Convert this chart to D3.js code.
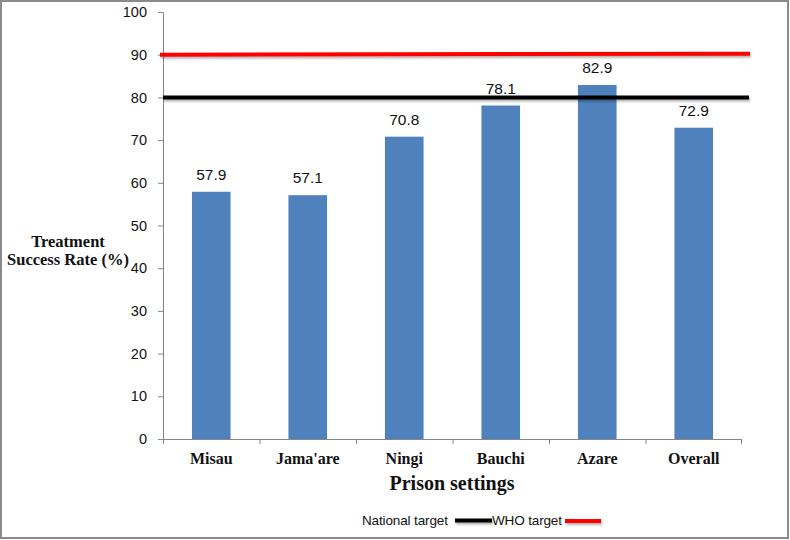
<!DOCTYPE html>
<html><head><meta charset="utf-8">
<script src="https://cdn.jsdelivr.net/npm/d3@7/dist/d3.min.js"></script>
<style>body{margin:0;background:#fff}svg{display:block}</style>
</head><body>
<svg id="c" width="790" height="540"></svg>
<script>
const categories = ["Misau","Jama'are","Ningi","Bauchi","Azare","Overall"];
const values = [57.9, 57.1, 70.8, 78.1, 82.9, 72.9];
const yTicks = [0,10,20,30,40,50,60,70,80,90,100];
const nationalTarget = 80;
const whoTarget = 90;

(function(){
const svg = d3.select("#c");
const pLeft = 163, pRight = 742, pTop = 12, pBottom = 439;
const x = d3.scaleBand().domain(categories).range([pLeft, pRight]).paddingInner(0.6).paddingOuter(0.3);
const y = d3.scaleLinear().domain([0, 100]).range([pBottom, pTop]);
const axisCol = "#868686";

// frame
svg.append("rect").attr("x",1).attr("y",1).attr("width",787).attr("height",537)
  .attr("fill","#fff").attr("stroke","#8a8a8a").attr("stroke-width",2);

// y axis
const ya = svg.append("g").attr("transform",`translate(${pLeft},0)`)
  .call(d3.axisLeft(y).tickValues(yTicks).tickSize(5).tickPadding(11));
ya.select(".domain").attr("stroke",axisCol);
ya.selectAll(".tick line").attr("stroke",axisCol);
ya.selectAll("text").attr("font-family","'Liberation Sans', Arial, sans-serif").attr("font-size",14.5).attr("fill","#111");

// bars
svg.append("g").selectAll("rect").data(values).join("rect")
  .attr("x",(d,i)=>x(categories[i])).attr("width",x.bandwidth())
  .attr("y",d=>y(d)).attr("height",d=>y(0)-y(d)).attr("fill","#4F81BD");

// value labels
svg.append("g").selectAll("text").data(values).join("text")
  .attr("x",(d,i)=>x(categories[i])+x.bandwidth()/2).attr("y",d=>y(d)-12)
  .attr("text-anchor","middle").attr("font-family","'Liberation Sans', Arial, sans-serif")
  .attr("font-size",15.5).attr("fill","#111").text(d=>d.toFixed(1));

// x axis
const xa = svg.append("g").attr("transform",`translate(0,${pBottom})`)
  .call(d3.axisBottom(x).tickSize(0).tickPadding(14).tickSizeOuter(0));
xa.select(".domain").remove();
xa.selectAll("text").attr("font-family","'Liberation Serif', 'Times New Roman', serif")
  .attr("font-weight","bold").attr("font-size",16).attr("fill","#111");
svg.append("line").attr("x1",pLeft-5).attr("x2",pRight).attr("y1",pBottom+0.5).attr("y2",pBottom+0.5).attr("stroke",axisCol);
const step = x.step();
svg.append("g").selectAll("line").data(d3.range(categories.length+1)).join("line")
  .attr("x1",i=>pLeft+i*step+(i===categories.length?-0.5:0.5)).attr("x2",i=>pLeft+i*step+(i===categories.length?-0.5:0.5))
  .attr("y1",pBottom).attr("y2",pBottom+5).attr("stroke",axisCol);

// target lines with shadow
const defs = svg.append("defs");
const f = defs.append("filter").attr("id","sh").attr("filterUnits","userSpaceOnUse")
  .attr("x",0).attr("y",0).attr("width",790).attr("height",540);
f.append("feDropShadow").attr("dx",1).attr("dy",2).attr("stdDeviation",1.2).attr("flood-color","#000").attr("flood-opacity",0.3);
svg.append("line").attr("x1",pLeft).attr("x2",749).attr("y1",y(nationalTarget)).attr("y2",y(nationalTarget))
  .attr("stroke","#000").attr("stroke-width",4).attr("filter","url(#sh)");
svg.append("line").attr("x1",pLeft-3).attr("x2",750).attr("y1",y(whoTarget)).attr("y2",y(whoTarget)-1)
  .attr("stroke","#FF0000").attr("stroke-width",4).attr("filter","url(#sh)");

// axis titles
const yt = svg.append("text").attr("font-family","'Liberation Serif', 'Times New Roman', serif")
  .attr("font-weight","bold").attr("font-size",16.5).attr("fill","#111").attr("text-anchor","middle");
yt.append("tspan").attr("x",68).attr("y",247).text("Treatment");
yt.append("tspan").attr("x",68).attr("y",265).text("Success Rate (%)");
svg.append("text").attr("x",452).attr("y",490).attr("text-anchor","middle")
  .attr("font-family","'Liberation Serif', 'Times New Roman', serif").attr("font-weight","bold")
  .attr("font-size",20).attr("fill","#111").text("Prison settings");

// legend
const lg = svg.append("g").attr("font-family","'Liberation Sans', Arial, sans-serif").attr("font-size",13.5).attr("fill","#111");
lg.append("text").attr("x",362).attr("y",525).attr("textLength",86).text("National target");
lg.append("line").attr("x1",455).attr("x2",492).attr("y1",520.5).attr("y2",520.5).attr("stroke","#000").attr("stroke-width",4).attr("filter","url(#sh)");
lg.append("text").attr("x",492).attr("y",525).attr("textLength",70).text("WHO target");
lg.append("line").attr("x1",565).attr("x2",601).attr("y1",521).attr("y2",521).attr("stroke","#FF0000").attr("stroke-width",4).attr("filter","url(#sh)");
})();
</script>
</body></html>
